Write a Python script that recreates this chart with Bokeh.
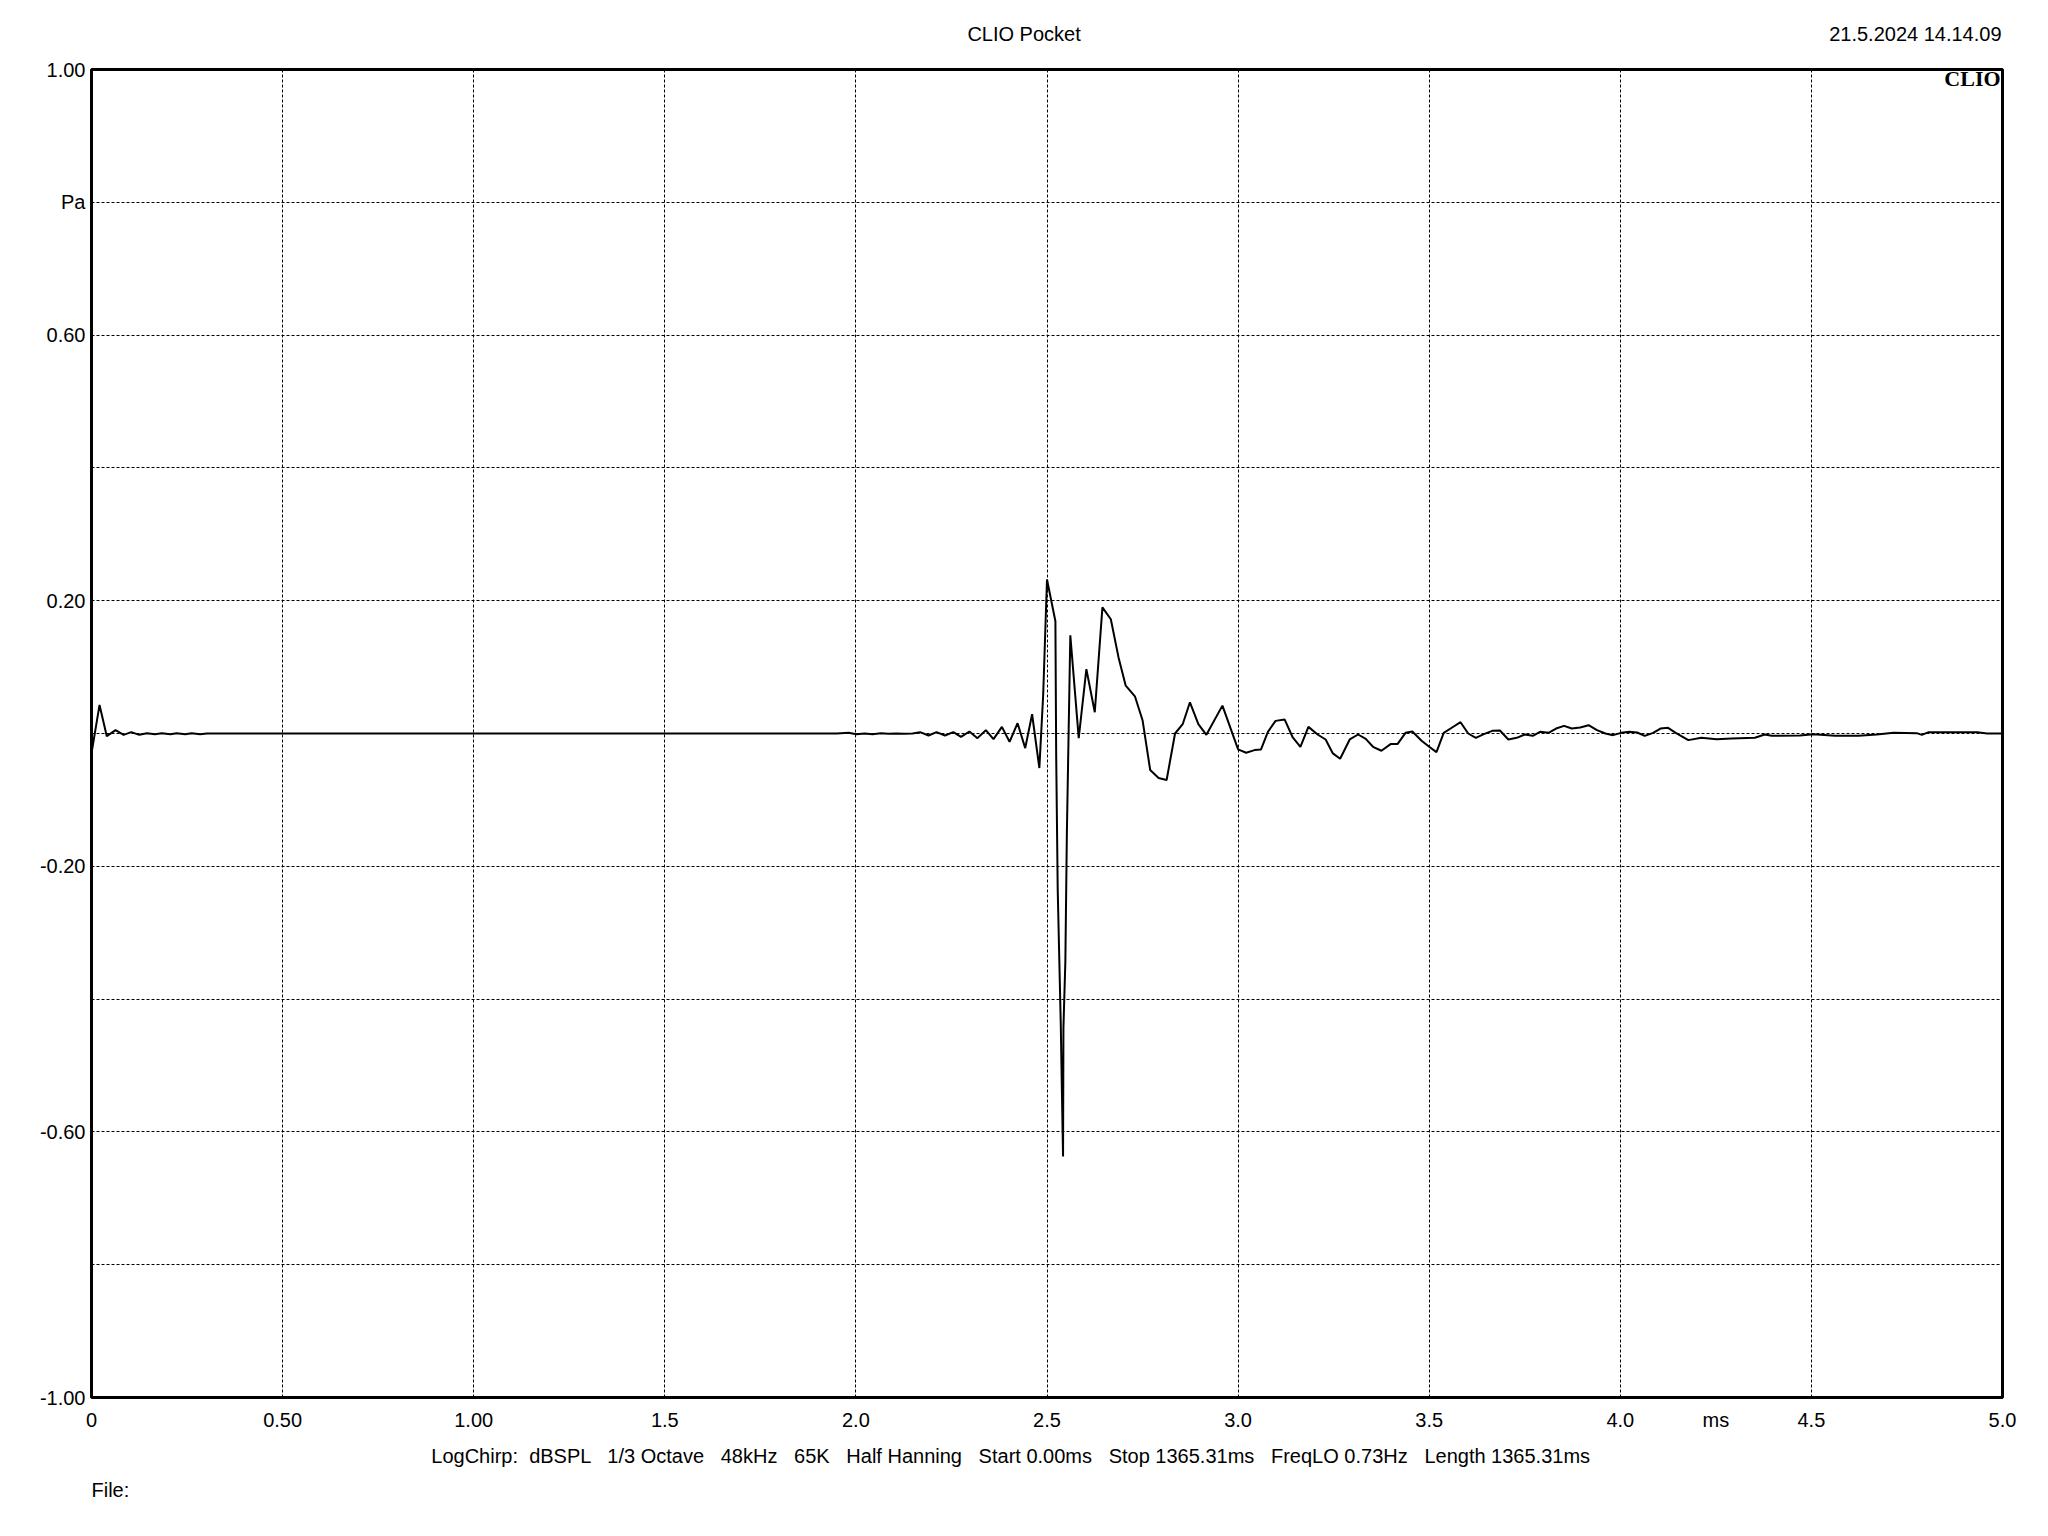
from bokeh.plotting import figure
from bokeh.models import Range1d, FixedTicker, Label, LinearAxis
from bokeh.embed import file_html
from bokeh.resources import INLINE

# ---- data (time in ms, pressure in Pa) ----
t_ms = [0.000, 0.021, 0.040, 0.063, 0.084, 0.104, 0.125, 0.145, 0.166, 0.184,
        0.206, 0.223, 0.245, 0.262, 0.284, 0.302,
        1.950,
        1.981, 2.001, 2.023, 2.044, 2.065, 2.085, 2.106, 2.127, 2.148, 2.168,
        2.190, 2.211, 2.233, 2.255, 2.275, 2.297, 2.318, 2.340, 2.360, 2.382,
        2.402, 2.423, 2.443, 2.461, 2.480, 2.490, 2.500, 2.522, 2.524, 2.528,
        2.532, 2.536, 2.539, 2.542, 2.543, 2.548, 2.552, 2.561, 2.583, 2.603,
        2.625, 2.645, 2.667, 2.687, 2.706, 2.730, 2.750, 2.770, 2.792, 2.813,
        2.835, 2.855, 2.874, 2.896, 2.917, 2.959, 3.000, 3.021, 3.043, 3.060,
        3.078, 3.098, 3.122, 3.143, 3.163, 3.184, 3.208, 3.229, 3.248, 3.267,
        3.292, 3.314, 3.334, 3.353, 3.375, 3.399, 3.417, 3.438, 3.456, 3.480,
        3.500, 3.519, 3.538, 3.560, 3.582, 3.602, 3.622, 3.643, 3.665, 3.685,
        3.707, 3.729, 3.750, 3.771, 3.790, 3.812, 3.832, 3.853, 3.873, 3.895,
        3.917, 3.939, 3.961, 3.981, 4.002, 4.024, 4.044, 4.064, 4.086, 4.105,
        4.125, 4.145, 4.178, 4.212, 4.252, 4.291, 4.352, 4.378, 4.396, 4.470,
        4.505, 4.562, 4.623, 4.671, 4.715, 4.776, 4.789, 4.807, 4.934, 4.960,
        5.000]
pa = [-0.030, 0.043, -0.004, 0.005, -0.002, 0.002, -0.002, 0.0005, -0.001, 0.0005,
      -0.001, 0.0005, -0.001, 0.0005, -0.001, 0.0,
      0.0,
      0.001, -0.001, 0.0, -0.001, 0.0005, -0.0005, 0.0, -0.0005, 0.0, 0.002,
      -0.003, 0.002, -0.003, 0.002, -0.005, 0.003, -0.007, 0.005, -0.0085, 0.010,
      -0.0125, 0.0155, -0.022, 0.029, -0.052, 0.058, 0.232, 0.169, -0.031, -0.234,
      -0.336, -0.437, -0.539, -0.637, -0.443, -0.344, -0.150, 0.148, -0.007, 0.097,
      0.032, 0.190, 0.172, 0.115, 0.072, 0.056, 0.020, -0.055, -0.067, -0.070,
      0.0, 0.014, 0.047, 0.014, -0.002, 0.042, -0.024, -0.029, -0.025, -0.024,
      0.0025, 0.019, 0.021, -0.006, -0.020, 0.010, -0.0015, -0.009, -0.030, -0.038,
      -0.009, -0.0015, -0.008, -0.020, -0.026, -0.016, -0.016, 0.001, 0.003, -0.011,
      -0.020, -0.028, 0.001, 0.009, 0.017, 0.0, -0.0065, -0.001, 0.004, 0.0045,
      -0.009, -0.0065, -0.0015, -0.0035, 0.0025, 0.001, 0.0075, 0.0115, 0.0075, 0.009,
      0.0125, 0.005, 0.0, -0.0025, 0.001, 0.0025, 0.0015, -0.0035, 0.001, 0.0075,
      0.0085, 0.001, -0.010, -0.0065, -0.0085, -0.0075, -0.0065, -0.0015, -0.0035, -0.003,
      -0.001, -0.0035, -0.0035, -0.0015, 0.001, 0.0005, -0.002, 0.002, 0.002, 0.0,
      0.0]

x_grid_ticks = [0.5, 1.0, 1.5, 2.0, 2.5, 3.0, 3.5, 4.0, 4.5]
x_label_ticks = [0, 0.5, 1, 1.5, 2, 2.5, 3, 3.5, 4, 4.25, 4.5, 5]
x_tick_labels = ["0", "0.50", "1.00", "1.5", "2.0", "2.5", "3.0", "3.5", "4.0", "ms", "4.5", "5.0"]
y_grid_ticks = [-0.8, -0.6, -0.4, -0.2, 0.0, 0.2, 0.4, 0.6, 0.8]
y_label_ticks = [-1.0, -0.6, -0.2, 0.2, 0.6, 0.8, 1.0]
y_tick_labels = ["-1.00", "-0.60", "-0.20", "0.20", "0.60", "Pa", "1.00"]

title_text = "CLIO Pocket"
date_text = "21.5.2024 14.14.09"
logo_text = "CLIO"
info_fields = ["LogChirp:", "dBSPL", "1/3 Octave", "48kHz", "65K", "Half Hanning",
               "Start 0.00ms", "Stop 1365.31ms", "FreqLO 0.73Hz", "Length 1365.31ms"]
file_text = "File:"

# wide gaps between the info fields (non-breaking so SVG keeps them)
GAP2 = "\u00a0 "
GAP3 = " \u00a0 "
info_text = info_fields[0] + GAP2 + GAP3.join(info_fields[1:])

FONT = "Liberation Sans"
FS = "20px"

p = figure(frame_width=1911, frame_height=1328,
           min_border_left=91, min_border_right=40,
           min_border_top=69, min_border_bottom=100,
           x_range=Range1d(0, 5), y_range=Range1d(-1, 1),
           output_backend="svg", toolbar_location=None,
           background_fill_color="white", border_fill_color="white")

p.outline_line_color = "black"
p.outline_line_width = 3

# grids
p.xgrid.ticker = FixedTicker(ticks=x_grid_ticks)
p.ygrid.ticker = FixedTicker(ticks=y_grid_ticks)
for g in (p.xgrid, p.ygrid):
    g.grid_line_color = "black"
    g.grid_line_width = 1
    g.grid_line_dash = "3 2"
    g.grid_line_alpha = 1.0


def style_axis(ax, standoff, tick_out=0):
    ax.axis_line_color = None
    ax.major_tick_line_color = None
    ax.minor_tick_line_color = None
    ax.major_tick_out = tick_out
    ax.major_tick_in = 0
    ax.minor_tick_out = 0
    ax.minor_tick_in = 0
    ax.major_label_standoff = standoff
    ax.major_label_text_font = FONT
    ax.major_label_text_font_size = FS
    ax.major_label_text_color = "black"


# main axes
p.xaxis.ticker = FixedTicker(ticks=x_label_ticks)
p.xaxis.major_label_overrides = dict(zip(x_label_ticks, x_tick_labels))
p.yaxis.ticker = FixedTicker(ticks=y_label_ticks)
p.yaxis.major_label_overrides = dict(zip(y_label_ticks, y_tick_labels))
style_axis(p.xaxis[0], 11)
style_axis(p.yaxis[0], 6)

# header row: title (centred on page) and date (right-aligned on frame edge)
head_pos = [2.440, 4.772]
head_axis = LinearAxis(ticker=FixedTicker(ticks=head_pos),
                       major_label_overrides=dict(zip(head_pos, [title_text, date_text])))
style_axis(head_axis, 25)
p.add_layout(head_axis, "above")

# footer: measurement info line
info_pos = [2.406]
info_axis = LinearAxis(ticker=FixedTicker(ticks=info_pos),
                       major_label_overrides=dict(zip(info_pos, [info_text])))
style_axis(info_axis, 11)
p.add_layout(info_axis, "below")

# footer: file line
file_pos = [0.0494]
file_axis = LinearAxis(ticker=FixedTicker(ticks=file_pos),
                       major_label_overrides=dict(zip(file_pos, [file_text])))
style_axis(file_axis, 9)
p.add_layout(file_axis, "below")

# trace
p.line(t_ms, pa, line_color="black", line_width=2)

# logo inside the frame
p.add_layout(Label(x=4.995, y=0.9865, text=logo_text, text_align="right",
                   text_baseline="middle", text_font="Liberation Serif",
                   text_font_size="22px", text_font_style="bold",
                   text_color="black"))

open("out.html", "w").write(file_html(p, INLINE))
